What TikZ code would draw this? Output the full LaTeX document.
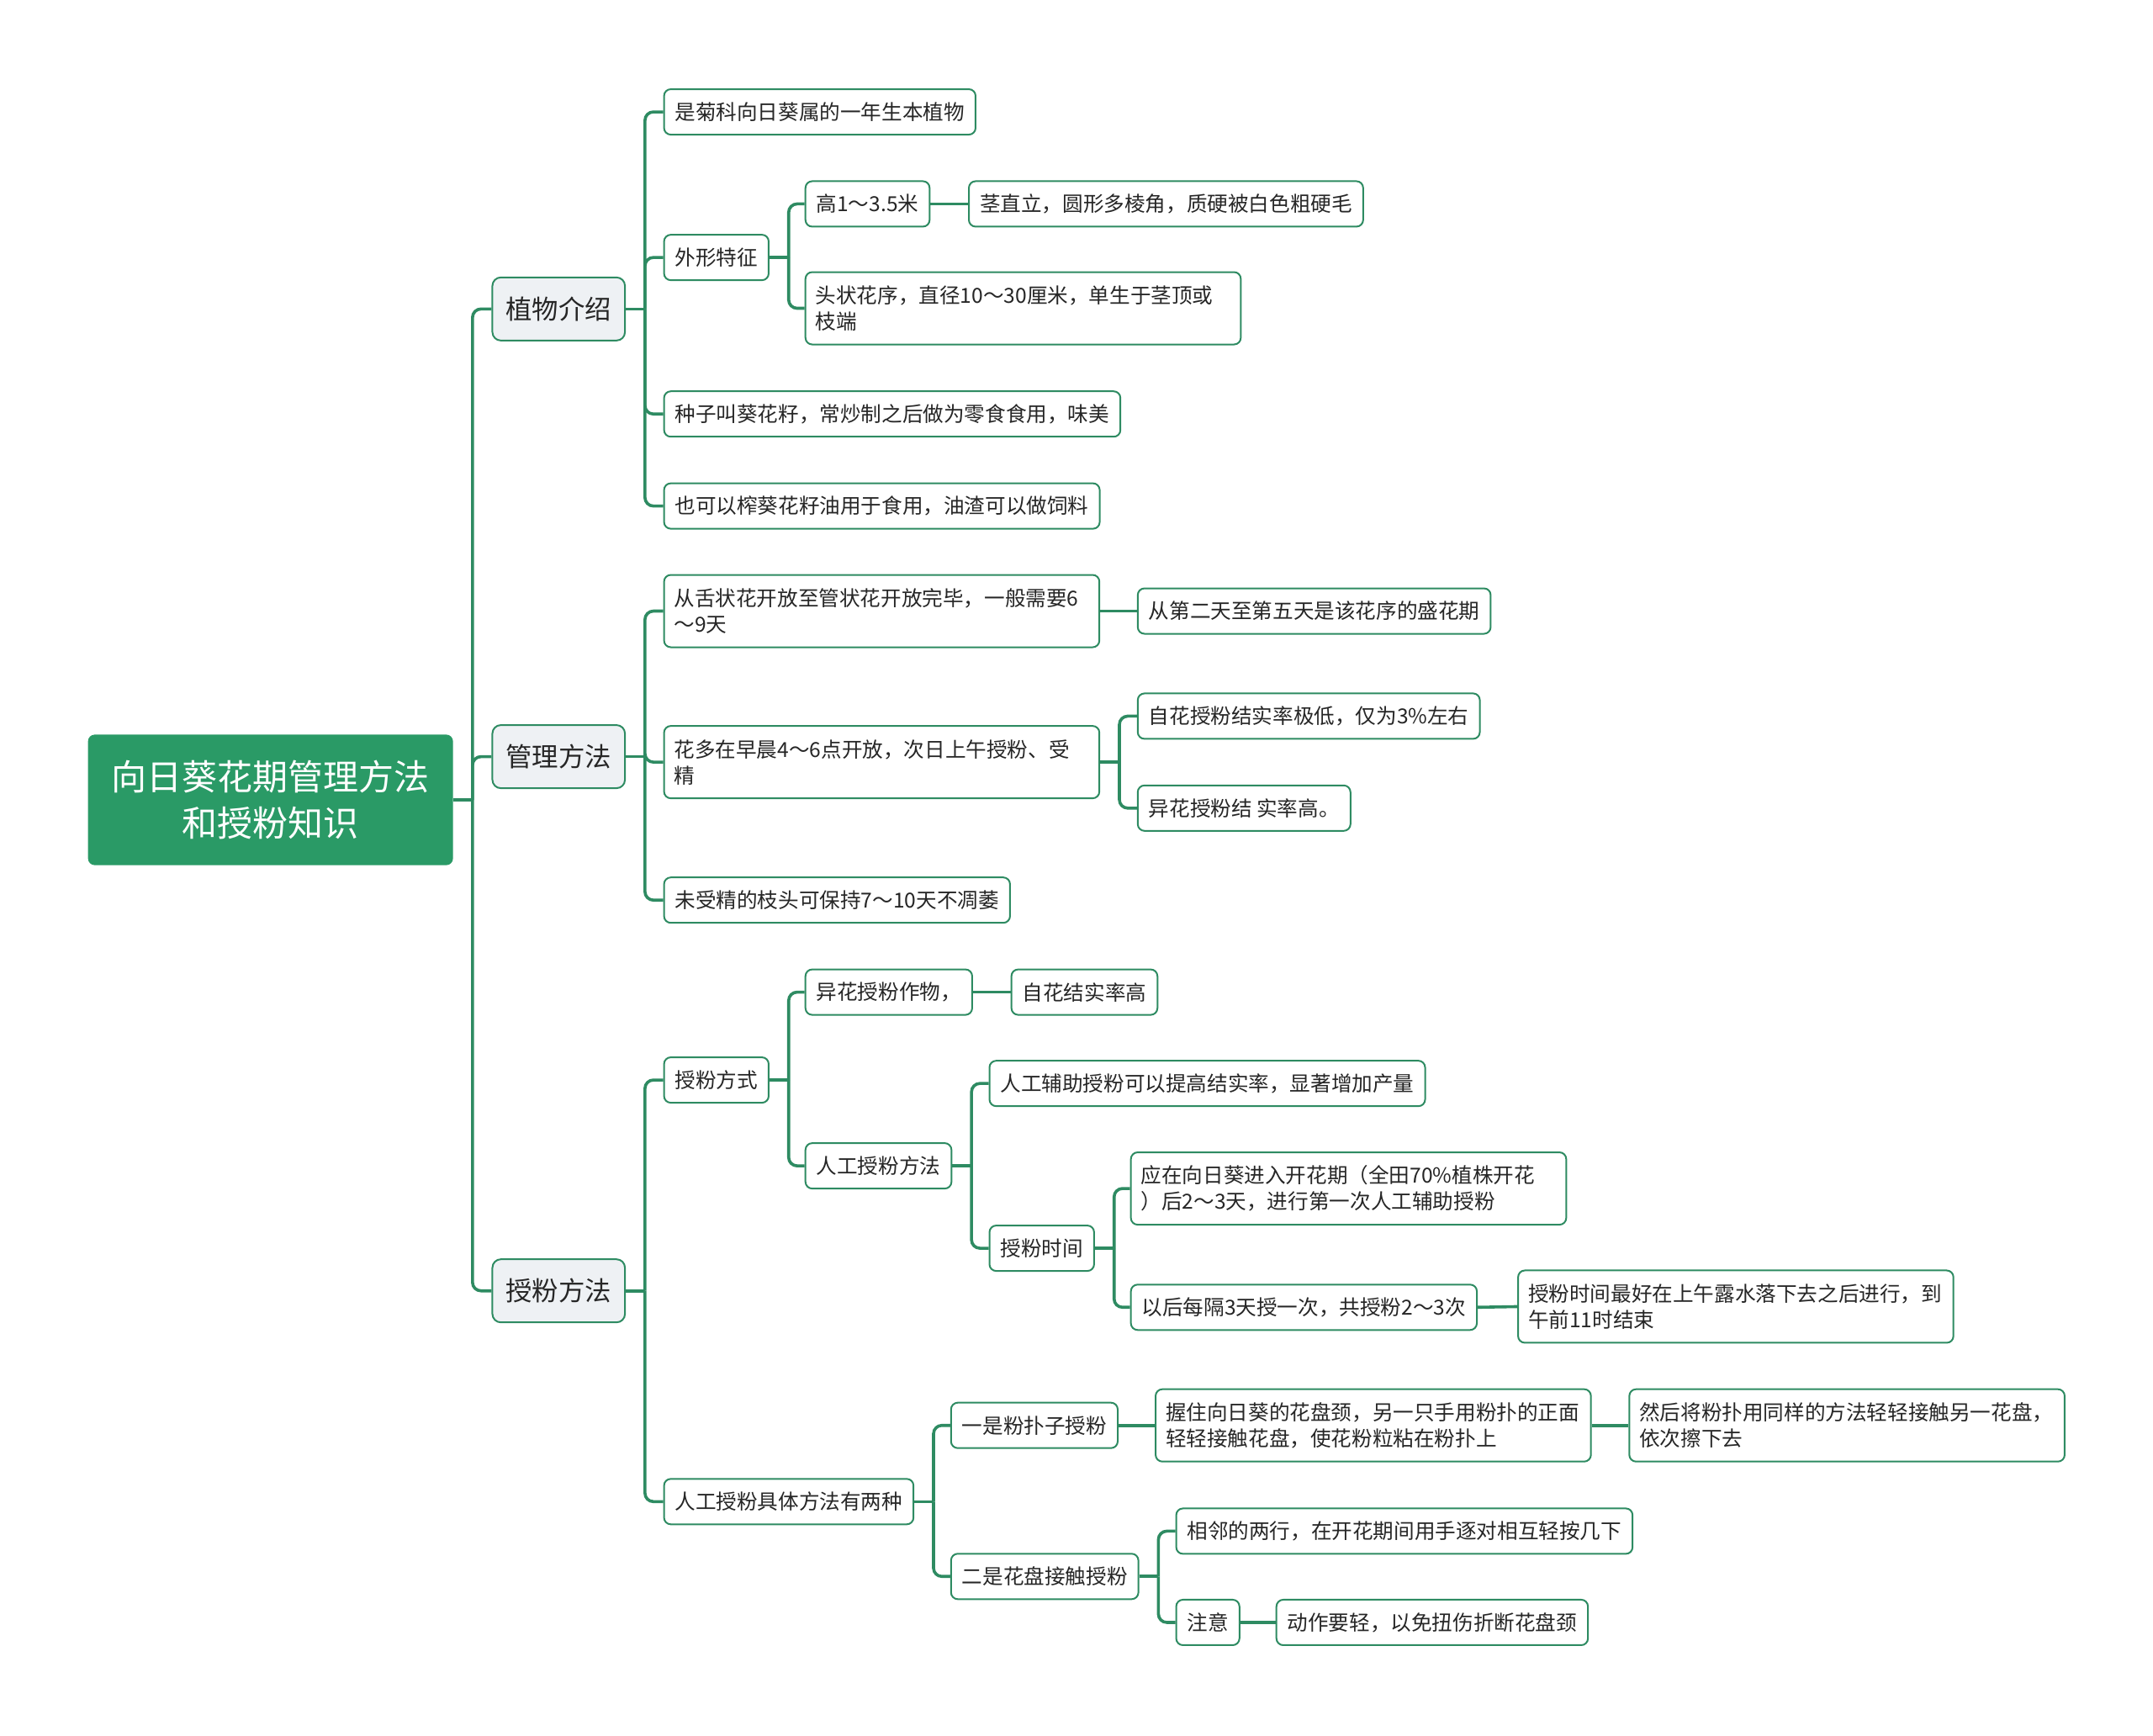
\documentclass[tikz,border=0pt]{standalone}
\usepackage{fontspec}
\setmainfont{Noto Sans CJK SC}
\usepackage{tikz}
\usetikzlibrary{positioning}

\definecolor{mapgreen}{HTML}{2A9A66}
\definecolor{linegreen}{HTML}{2E8B62}
\definecolor{topicgray}{HTML}{EEF1F4}
\definecolor{textdark}{HTML}{262626}

\begin{document}
\begin{tikzpicture}[
    x=0.8163pt, y=-0.8163pt,
    root/.style={
        rectangle, rounded corners=4pt, fill=mapgreen, text=white,
        minimum width=217pt, minimum height=77.6pt, align=center,
        font=\fontsize{21pt}{27.8pt}\selectfont
    },
    topic/.style={
        rectangle, rounded corners=5pt, draw=linegreen, line width=1pt,
        fill=topicgray, text=textdark, minimum height=37.5pt, inner xsep=8pt,
        anchor=west, font=\fontsize{15.7pt}{19pt}\selectfont
    },
    leaf/.style={
        rectangle, rounded corners=4pt, draw=linegreen, line width=1pt,
        fill=white, text=textdark, minimum height=27pt, inner xsep=6.5pt,
        inner ysep=4pt, anchor=west, align=left,
        font=\fontsize{12.3pt}{15.5pt}\selectfont
    },
    twoline/.style={minimum height=43pt, inner xsep=6pt, text width=246.8pt},
    link/.style={draw=linegreen, line width=1.8pt, rounded corners=5pt}
]

% Page
\fill[white] (0,0) rectangle (1568,1263.6);

% Root
\node[root] (root) at (197,582.5) {向日葵花期管理方法\\和授粉知识};

% Main topics
\node[topic] (zw) at (358,225) {植物介绍};
\node[topic] (gl) at (358,551) {管理方法};
\node[topic] (sf) at (358,940) {授粉方法};

% Plant introduction
\node[leaf] (zw1) at (483,81.5) {是菊科向日葵属的一年生本植物};
\node[leaf] (zw2) at (483,187.5) {外形特征};
\node[leaf] (zw3) at (483,301.5) {种子叫葵花籽，常炒制之后做为零食食用，味美};
\node[leaf] (zw4) at (483,368.5) {也可以榨葵花籽油用于食用，油渣可以做饲料};
\node[leaf] (zw21) at (586,148.5) {高1～3.5米};
\node[leaf] (zw211) at (705,148.5) {茎直立，圆形多棱角，质硬被白色粗硬毛};
\node[leaf, twoline] (zw22) at (586,224.5) {头状花序，直径10～30厘米，单生于茎顶或\\枝端};

% Management
\node[leaf, twoline] (gl1) at (483,445) {从舌状花开放至管状花开放完毕，一般需要6\\～9天};
\node[leaf] (gl11) at (828,445) {从第二天至第五天是该花序的盛花期};
\node[leaf, twoline] (gl2) at (483,555) {花多在早晨4～6点开放，次日上午授粉、受\\精};
\node[leaf] (gl21) at (828,521.5) {自花授粉结实率极低，仅为3\%左右};
\node[leaf] (gl22) at (828,588.5) {异花授粉结 实率高。};
\node[leaf] (gl3) at (483,655.5) {未受精的枝头可保持7～10天不凋萎};

% Pollination
\node[leaf] (sf1) at (483,786.5) {授粉方式};
\node[leaf] (sf11) at (586,722.5) {异花授粉作物，};
\node[leaf] (sf111) at (736,722.5) {自花结实率高};
\node[leaf] (sf12) at (586,849) {人工授粉方法};
\node[leaf] (sf121) at (720,789) {人工辅助授粉可以提高结实率，显著增加产量};
\node[leaf] (sf122) at (720,909) {授粉时间};
\node[leaf, twoline] (sf1221) at (823,865.5) {应在向日葵进入开花期（全田70\%植株开花\\）后2～3天，进行第一次人工辅助授粉};
\node[leaf] (sf1222) at (823,952) {以后每隔3天授一次，共授粉2～3次};
\node[leaf, twoline] (sf12221) at (1105,951.5) {授粉时间最好在上午露水落下去之后进行，到\\午前11时结束};
\node[leaf] (sf2) at (483,1093.5) {人工授粉具体方法有两种};
\node[leaf] (sf21) at (692,1038) {一是粉扑子授粉};
\node[leaf, twoline] (sf211) at (841,1038) {握住向日葵的花盘颈，另一只手用粉扑的正面\\轻轻接触花盘，使花粉粒粘在粉扑上};
\node[leaf, twoline] (sf2111) at (1186,1038) {然后将粉扑用同样的方法轻轻接触另一花盘，\\依次擦下去};
\node[leaf] (sf22) at (692,1148) {二是花盘接触授粉};
\node[leaf] (sf221) at (856,1115) {相邻的两行，在开花期间用手逐对相互轻按几下};
\node[leaf] (sf222) at (856,1181.5) {注意};
\node[leaf] (sf2221) at (929,1181.5) {动作要轻，以免扭伤折断花盘颈};

% Connectors
\draw[link] (root.east) -- ++(11.4pt,0);
\foreach \c in {zw,gl,sf} \draw[link] ([xshift=11.4pt]root.east) |- (\c.west);

\draw[link] (zw.east) -- ++(11.4pt,0);
\foreach \c in {zw1,zw2,zw3,zw4} \draw[link] ([xshift=11.4pt]zw.east) |- (\c.west);
\draw[link] (zw2.east) -- ++(11.4pt,0);
\foreach \c in {zw21,zw22} \draw[link] ([xshift=11.4pt]zw2.east) |- (\c.west);
\draw[link] (zw21.east) -- (zw211.west);

\draw[link] (gl.east) -- ++(11.4pt,0);
\foreach \c in {gl1,gl2,gl3} \draw[link] ([xshift=11.4pt]gl.east) |- (\c.west);
\draw[link] (gl1.east) -- (gl11.west);
\draw[link] (gl2.east) -- ++(11.4pt,0);
\foreach \c in {gl21,gl22} \draw[link] ([xshift=11.4pt]gl2.east) |- (\c.west);

\draw[link] (sf.east) -- ++(11.4pt,0);
\foreach \c in {sf1,sf2} \draw[link] ([xshift=11.4pt]sf.east) |- (\c.west);
\draw[link] (sf1.east) -- ++(11.4pt,0);
\foreach \c in {sf11,sf12} \draw[link] ([xshift=11.4pt]sf1.east) |- (\c.west);
\draw[link] (sf11.east) -- (sf111.west);
\draw[link] (sf12.east) -- ++(11.4pt,0);
\foreach \c in {sf121,sf122} \draw[link] ([xshift=11.4pt]sf12.east) |- (\c.west);
\draw[link] (sf122.east) -- ++(11.4pt,0);
\foreach \c in {sf1221,sf1222} \draw[link] ([xshift=11.4pt]sf122.east) |- (\c.west);
\draw[link] (sf1222.east) -- (sf12221.west);
\draw[link] (sf2.east) -- ++(11.4pt,0);
\foreach \c in {sf21,sf22} \draw[link] ([xshift=11.4pt]sf2.east) |- (\c.west);
\draw[link] (sf21.east) -- (sf211.west);
\draw[link] (sf211.east) -- (sf2111.west);
\draw[link] (sf22.east) -- ++(11.4pt,0);
\foreach \c in {sf221,sf222} \draw[link] ([xshift=11.4pt]sf22.east) |- (\c.west);
\draw[link] (sf222.east) -- (sf2221.west);

\end{tikzpicture}
\end{document}
